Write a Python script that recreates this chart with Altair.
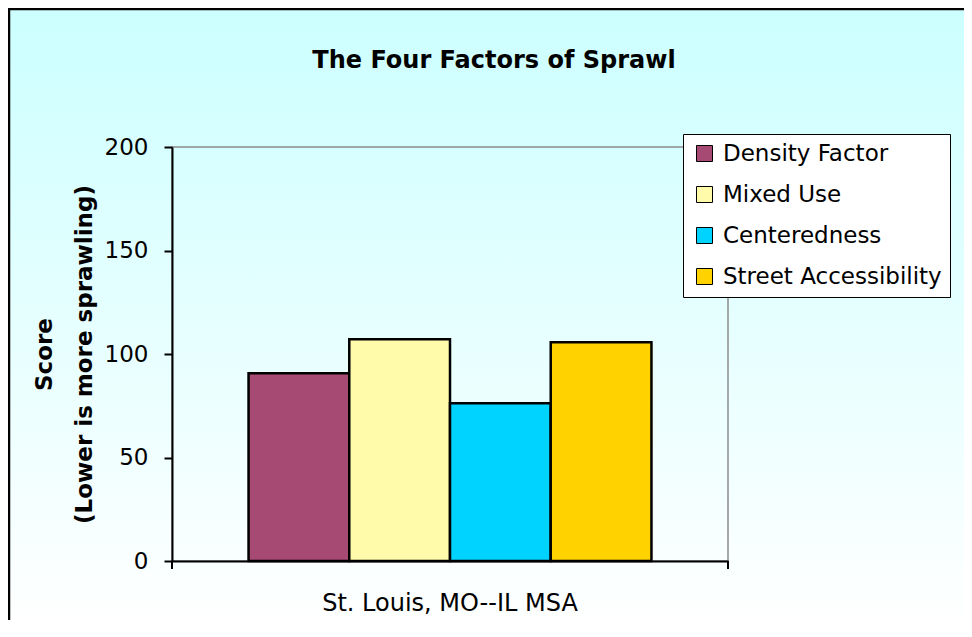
import altair as alt
import pandas as pd

# ---- data ----
factors = ["Density Factor", "Mixed Use", "Centeredness", "Street Accessibility"]
scores = [90.7, 107.1, 76.2, 105.7]
msa = ["St. Louis, MO--IL MSA"] * 4
colors = ["#A64A74", "#FFFBAA", "#00D3FF", "#FFD200"]
y_ticks = [0, 50, 100, 150, 200]

W, H = 556, 414
FONT = "DejaVu Sans"

df = pd.DataFrame({"msa": msa, "factor": factors, "score": scores})
one = pd.DataFrame({"k": [0]})

gradient = alt.LinearGradient(
    gradient="linear",
    stops=[alt.GradientStop(color="#ccffff", offset=0),
           alt.GradientStop(color="#ffffff", offset=1)],
    x1=0, x2=0, y1=0, y2=1,
)

bg = alt.Chart(one).mark_rect(fill=gradient, stroke="black", strokeWidth=2.5).encode(
    x=alt.value(-163), x2=alt.value(W + 400), y=alt.value(-138), y2=alt.value(H + 66)
)

frame = alt.Chart(one).mark_rect(fill="white", fillOpacity=0, stroke="#8c8c8c", strokeWidth=1.5).encode(
    x=alt.value(0), x2=alt.value(W), y=alt.value(0), y2=alt.value(H)
)

bars = alt.Chart(df).mark_bar(stroke="black", strokeWidth=2.5, opacity=1).encode(
    x=alt.X(
        "msa:N",
        scale=alt.Scale(paddingInner=0, paddingOuter=0.19),
        axis=alt.Axis(title=None, labelAngle=0, ticks=False, tickSize=0, labelPadding=30,
                      labelFontSize=24, labelFont=FONT, labelColor="black",
                      domainColor="black", domainWidth=2, zindex=1, labelLimit=600),
    ),
    xOffset=alt.XOffset("factor:N", sort=factors, scale=alt.Scale(paddingInner=0, paddingOuter=0)),
    y=alt.Y(
        "score:Q",
        scale=alt.Scale(domain=[0, 200], nice=False),
        axis=alt.Axis(values=y_ticks, grid=False, tickSize=8, tickWidth=2, tickColor="black",
                      domainColor="black", domainWidth=2, labelFontSize=23, labelFont=FONT,
                      labelColor="black", labelPadding=16,
                      title=["Score", "(Lower is more sprawling)"], titleFont=FONT,
                      titleFontSize=23, titleFontWeight="bold", titleColor="black",
                      titleX=-128, titleY=207, titleAngle=270, titleAlign="center",
                      titleBaseline="middle", titleLineHeight=40, zindex=1),
    ),
    color=alt.Color(
        "factor:N",
        sort=factors,
        scale=alt.Scale(domain=factors, range=colors),
        legend=alt.Legend(orient="none", legendX=511, legendY=-13, title=None,
                          fillColor="white", strokeColor="black", padding=8,
                          symbolType="square", symbolSize=256, symbolStrokeColor="black",
                          symbolStrokeWidth=1, symbolOpacity=1, symbolOffset=2,
                          labelFont=FONT, labelFontSize=23, labelColor="black",
                          labelLimit=400, labelOffset=7, rowPadding=17, zindex=1),
    ),
)

tick_l = alt.Chart(one).mark_rule(color="black", strokeWidth=2).encode(
    x=alt.value(0), y=alt.value(H), y2=alt.value(H + 8)
)
tick_r = alt.Chart(one).mark_rule(color="black", strokeWidth=2).encode(
    x=alt.value(W), y=alt.value(H), y2=alt.value(H + 8)
)

chart = alt.layer(bg, frame, bars, tick_l, tick_r).properties(
    width=W,
    height=H,
    title=alt.TitleParams(text="The Four Factors of Sprawl", font=FONT, fontSize=24,
                          fontWeight="bold", color="black", anchor="middle",
                          frame="group", dx=44, dy=65, offset=0),
    autosize=alt.AutoSizeParams(type="none"),
    padding={"left": 164, "top": 139, "right": 236, "bottom": 59},
).configure(background="white").configure_view(stroke="transparent")

chart.save("out.html", embed_options={"renderer": "svg", "actions": False})
